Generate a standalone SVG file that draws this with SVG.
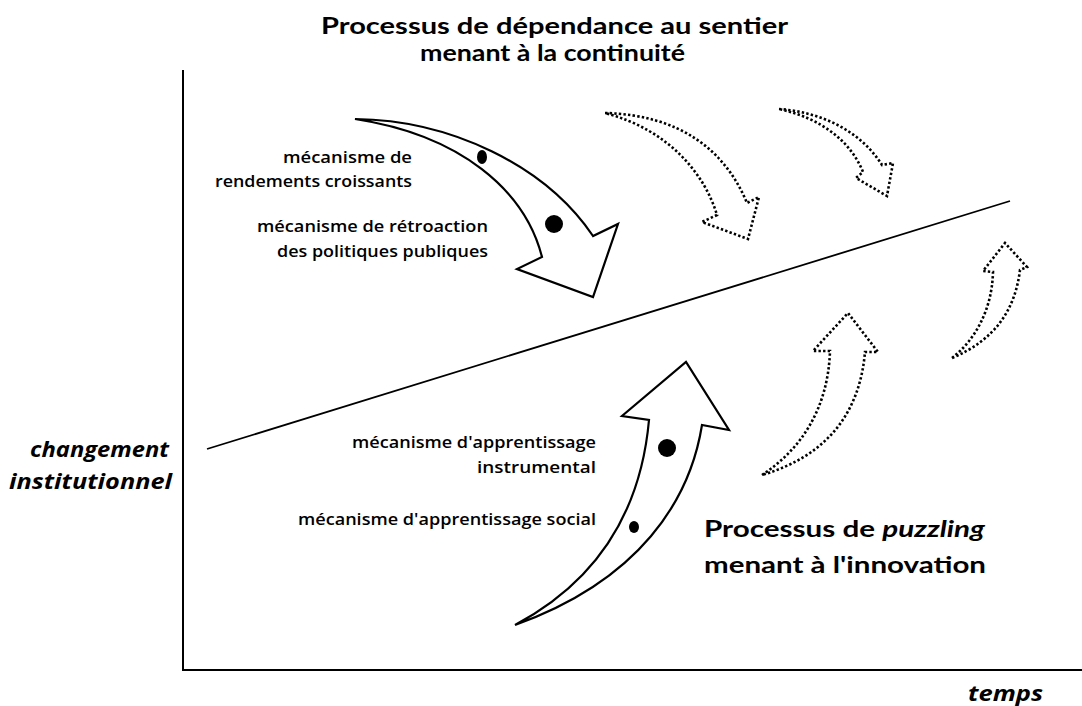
<svg xmlns="http://www.w3.org/2000/svg" width="1082" height="706" viewBox="0 0 1082 706">
<style>
.title{font-family:Lato,"Open Sans","Liberation Sans",sans-serif;font-weight:bold;font-size:22.5px;fill:#000}
.lbl{font-family:"Open Sans","Liberation Sans",sans-serif;font-weight:600;font-size:15.5px;fill:#000}
.axl{font-family:"Open Sans","Liberation Sans",sans-serif;font-weight:bold;font-style:italic;font-size:21px;fill:#000}
.axis{stroke:#000;stroke-width:2;fill:none}
.solid{fill:#fff;stroke:#000;stroke-width:2.2;stroke-linejoin:miter}
.dotted{fill:#fff;stroke:#000;stroke-width:2.6;stroke-dasharray:2.4 2.2;stroke-linejoin:miter}
</style>
<rect width="1082" height="706" fill="#fff"/>
<g id="axes">
<line class="axis" x1="183" y1="70" x2="183" y2="670"/>
<line class="axis" x1="182" y1="670" x2="1082" y2="670"/>
<text class="axl" x="30" y="457" textLength="139" lengthAdjust="spacingAndGlyphs">changement</text>
<text class="axl" x="9" y="489" textLength="163" lengthAdjust="spacingAndGlyphs">institutionnel</text>
<text class="axl" x="968" y="701" textLength="75" lengthAdjust="spacingAndGlyphs">temps</text>
</g>
<g id="threshold">
<line x1="207" y1="449" x2="1010" y2="201" stroke="#000" stroke-width="1.8"/>
</g>
<g id="title-top">
<text class="title" x="321" y="34" textLength="467" lengthAdjust="spacingAndGlyphs">Processus de dépendance au sentier</text>
<text class="title" x="420" y="61" textLength="265" lengthAdjust="spacingAndGlyphs">menant à la continuité</text>
</g>
<g id="title-bottom">
<text class="title" x="704" y="537" textLength="281" lengthAdjust="spacingAndGlyphs">Processus de <tspan font-style="italic">puzzling</tspan></text>
<text class="title" x="704" y="573" textLength="282" lengthAdjust="spacingAndGlyphs">menant à l'innovation</text>
</g>
<g id="arrows">
<g id="arrow-continuity">
<path class="solid" d="M355,119 C450,120 545,165 593,236 L618,224 L593,297 L517,269 L542,257 C525,190 460,135 355,119 Z"/>
<ellipse cx="482" cy="157" rx="5" ry="7"/>
<circle cx="554" cy="224" r="9"/>
</g>
<g id="arrow-puzzling">
<path class="solid" d="M515,625 C590,585 640,520 649,420 L622,416 L686,362 L729,430 L702,425 C690,500 640,580 515,625 Z"/>
<circle cx="667" cy="448" r="9"/>
<ellipse cx="634" cy="527" rx="5" ry="6"/>
</g>
<path class="dotted" d="M605,113 C680,115 725,150 747,203 L759,197 L748,239 L702,222 L717,215 C705,175 670,130 605,113 Z"/>
<path class="dotted" d="M779,109 C820,112 860,130 882,165 L893,163 L887,196 L856,178 L863,172 C850,140 820,118 779,109 Z"/>
<path class="dotted" d="M762,475 C800,450 828,410 830,351 L813,351 L848,313 L878,352 L865,352 C860,410 830,455 762,475 Z"/>
<path class="dotted" d="M952,358 C975,340 992,310 993,272 L983,271 L1005,243 L1027,267 L1020,270 C1015,310 995,340 952,358 Z"/>
</g>
<g id="labels-top">
<text class="lbl" x="283" y="163" textLength="129" lengthAdjust="spacingAndGlyphs">mécanisme de</text>
<text class="lbl" x="215" y="187" textLength="197" lengthAdjust="spacingAndGlyphs">rendements croissants</text>
<text class="lbl" x="257" y="232" textLength="231" lengthAdjust="spacingAndGlyphs">mécanisme de rétroaction</text>
<text class="lbl" x="277" y="257" textLength="211" lengthAdjust="spacingAndGlyphs">des politiques publiques</text>
</g>
<g id="labels-bottom">
<text class="lbl" x="352" y="448" textLength="244" lengthAdjust="spacingAndGlyphs">mécanisme d'apprentissage</text>
<text class="lbl" x="477" y="473" textLength="119" lengthAdjust="spacingAndGlyphs">instrumental</text>
<text class="lbl" x="298" y="525" textLength="298" lengthAdjust="spacingAndGlyphs">mécanisme d'apprentissage social</text>
</g>
</svg>
